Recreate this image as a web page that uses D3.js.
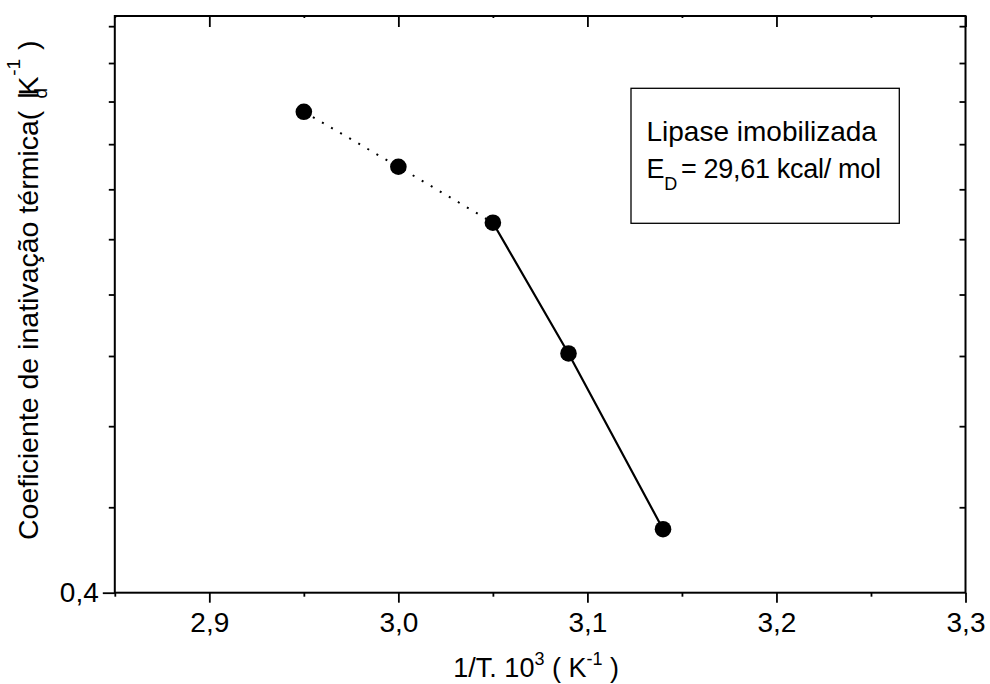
<!DOCTYPE html>
<html>
<head>
<meta charset="utf-8">
<script src="https://cdn.jsdelivr.net/npm/d3@7"></script>
<style>
  html, body { margin: 0; padding: 0; background: #fff; }
  svg { display: block; }
  text { font-family: "Liberation Sans", Arial, sans-serif; fill: #000; }
</style>
</head>
<body>
<svg id="chart" width="990" height="684"></svg>
<script>
// ---- data ----
const invT = [2.95, 3.00, 3.05, 3.09, 3.14];          // 1/T . 10^3 (K^-1)
const kd   = [1.211, 1.067, 0.938, 0.694, 0.463];      // thermal inactivation coefficient
const dottedIdx = [0, 1, 2];                            // points joined by dotted line
const solidIdx  = [2, 3, 4];                            // points joined by solid line
const xMajorTicks = [2.9, 3.0, 3.1, 3.2, 3.3];
const xMinorTicks = [2.85, 2.95, 3.05, 3.15, 3.25];
const xTickLabels = ["2,9", "3,0", "3,1", "3,2", "3,3"];
const yMajorTicks = [0.4];
const yTickLabels = ["0,4"];
const yMinorTicks = [0.487, 0.587, 0.690, 0.795, 0.903, 1.013, 1.124, 1.240, 1.355, 1.475];
const xDomain = [2.85, 3.3];
const yDomain = [0.4, 1.51];
const legendLines = ["Lipase imobilizada", "= 29,61 kcal/ mol"];

// ---- layout ----
const L = 114.8, R = 965.5, T = 16, B = 592.7;
const svg = d3.select("#chart");
const x = d3.scaleLinear().domain(xDomain).range([L, R]);
const y = d3.scaleLog().domain(yDomain).range([B, T]);

const fs = 28;

// bottom axis (outward ticks)
const gB = svg.append("g").attr("transform", `translate(0,${B})`);
gB.call(d3.axisBottom(x).tickValues(xMajorTicks).tickSize(10).tickPadding(10)
  .tickFormat((d, i) => xTickLabels[i]));
gB.append("g").call(d3.axisBottom(x).tickValues(xMinorTicks).tickSize(4).tickFormat(""));
// top axis (inward ticks)
const gT = svg.append("g").attr("transform", `translate(0,${T})`);
gT.call(d3.axisBottom(x).tickValues(xMajorTicks).tickSize(11).tickFormat(""));
gT.append("g").call(d3.axisBottom(x).tickValues(xMinorTicks).tickSize(2).tickFormat(""));
// left axis (outward ticks)
const gL = svg.append("g").attr("transform", `translate(${L},0)`);
gL.call(d3.axisLeft(y).tickValues(yMajorTicks).tickSize(12).tickPadding(4)
  .tickFormat((d, i) => yTickLabels[i]));
gL.append("g").call(d3.axisLeft(y).tickValues(yMinorTicks).tickSize(6).tickFormat(""));
// right axis (inward ticks)
const gR = svg.append("g").attr("transform", `translate(${R},0)`);
gR.call(d3.axisLeft(y).tickValues(yMinorTicks).tickSize(6).tickFormat(""));

svg.selectAll(".domain").remove();
svg.selectAll(".tick line").attr("stroke", "#000").attr("stroke-width", 1.8);
svg.selectAll(".tick text").attr("font-size", fs).attr("font-family", "Liberation Sans, Arial, sans-serif").attr("fill", "#000");
gB.selectAll(".tick text").attr("dy", "0.7em");

// frame
svg.append("rect").attr("x", L).attr("y", T).attr("width", R - L).attr("height", B - T)
  .attr("fill", "none").attr("stroke", "#000").attr("stroke-width", 2);

// lines
const line = d3.line().x(i => x(invT[i])).y(i => y(kd[i]));
svg.append("path").attr("d", line(dottedIdx)).attr("fill", "none")
  .attr("stroke", "#000").attr("stroke-width", 2).attr("stroke-dasharray", "2,8.5");
svg.append("path").attr("d", line(solidIdx)).attr("fill", "none")
  .attr("stroke", "#000").attr("stroke-width", 2.2);

// markers
svg.selectAll("circle.pt").data(invT).enter().append("circle").attr("class", "pt")
  .attr("cx", d => x(d)).attr("cy", (d, i) => y(kd[i])).attr("r", 8.3).attr("fill", "#000");

// legend box
svg.append("rect").attr("x", 631).attr("y", 88.3).attr("width", 268.3).attr("height", 135)
  .attr("fill", "#fff").attr("stroke", "#000").attr("stroke-width", 1.3);
svg.append("text").attr("x", 646.5).attr("y", 140.7).attr("font-size", 28).text(legendLines[0]);
const t2 = svg.append("text").attr("x", 646.5).attr("y", 178.3).attr("font-size", 27)
  .attr("letter-spacing", -0.3);
t2.append("tspan").text("E");
t2.append("tspan").attr("font-size", 18).attr("dy", 12).text("D");
t2.append("tspan").attr("dy", -12).attr("dx", 4).text(legendLines[1]);

// x label
const xl = svg.append("text").attr("x", (L + R) / 2 - 4).attr("y", 677).attr("text-anchor", "middle").attr("font-size", 27);
xl.append("tspan").text("1/T. 10");
xl.append("tspan").attr("font-size", 18).attr("dy", -12).text("3");
xl.append("tspan").attr("dy", 12).text(" ( K");
xl.append("tspan").attr("font-size", 18).attr("dy", -12).text("-1");
xl.append("tspan").attr("dy", 12).text(" )");

// y label
const yl = svg.append("text").attr("transform", "translate(38,540) rotate(-90)").attr("font-size", 28.5);
yl.append("tspan").text("Coeficiente de inativação térmica( ");
yl.append("tspan").attr("dx", 4).text("l");
yl.append("tspan").attr("dx", -3).text("K");
yl.append("tspan").attr("font-size", 19).attr("dx", -22).attr("dy", 9).text("d");
yl.append("tspan").attr("font-size", 19).attr("dx", 12).attr("dy", -27).text("-1");
yl.append("tspan").attr("dx", 1).attr("dy", 18).text(" )");
</script>
</body>
</html>
